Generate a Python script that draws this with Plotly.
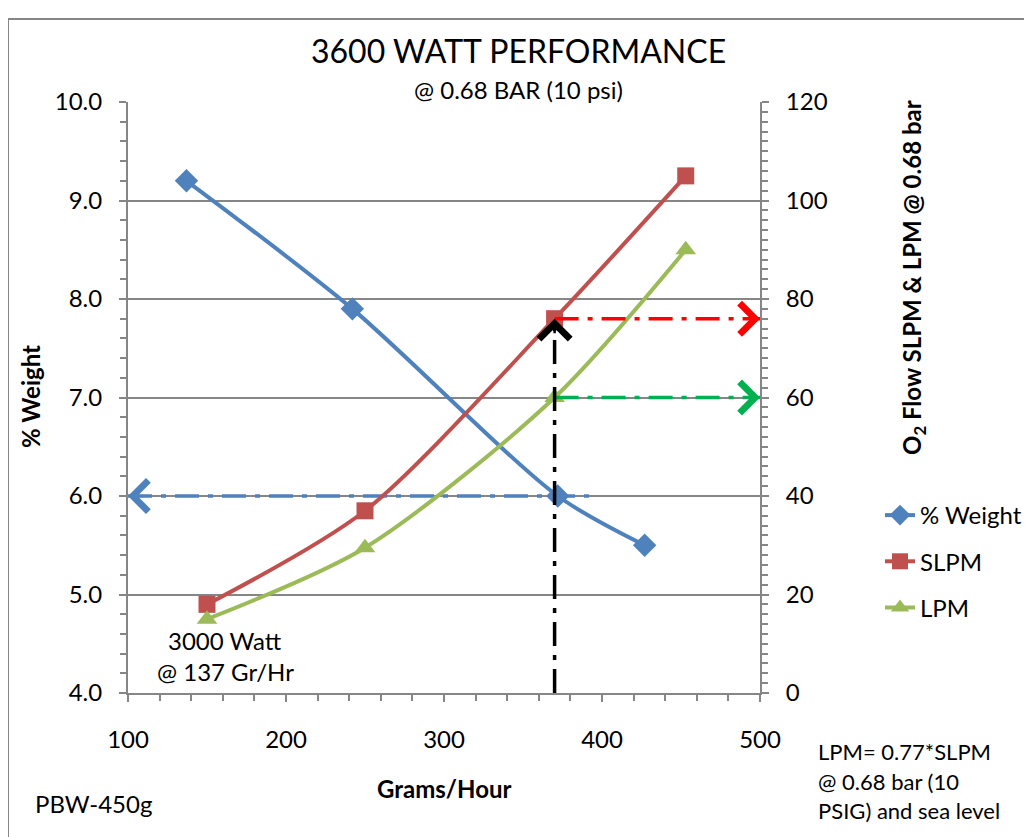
import plotly.graph_objects as go

# ---- data ----
GPH_WEIGHT = [137, 242, 372, 427]
PCT_WEIGHT = [9.2, 7.9, 6.0, 5.5]

GPH_FLOW = [150, 250, 370, 453]
SLPM = [18, 37, 76, 105]
LPM = [15, 29.5, 60, 90]

X_TICKS = [100, 200, 300, 400, 500]
Y_TICKS = [4.0, 5.0, 6.0, 7.0, 8.0, 9.0, 10.0]
Y2_TICKS = [0, 20, 40, 60, 80, 100, 120]

BLUE = "#4F81BD"
RED = "#C0504D"
GREEN = "#9BBB59"
GRAY = "#868686"
FONT = "Lato"

fig = go.Figure()

# main series
fig.add_trace(go.Scatter(x=GPH_WEIGHT, y=PCT_WEIGHT, name="% Weight", mode="lines+markers",
                         line=dict(color=BLUE, width=4, shape="spline", smoothing=0.8),
                         marker=dict(symbol="diamond", size=18, color=BLUE),
                         legendgroup="a", yaxis="y"))
fig.add_trace(go.Scatter(x=GPH_FLOW, y=SLPM, name="SLPM", mode="lines+markers",
                         line=dict(color=RED, width=4, shape="spline", smoothing=0.8),
                         marker=dict(symbol="square", size=17, color=RED),
                         legendgroup="b", yaxis="y2"))
fig.add_trace(go.Scatter(x=GPH_FLOW, y=LPM, name="LPM", mode="lines+markers",
                         line=dict(color=GREEN, width=4, shape="spline", smoothing=0.8),
                         marker=dict(symbol="triangle-up", size=18, color=GREEN),
                         legendgroup="c", yaxis="y2"))

# guide lines (dash-dot)
DASH = "24px,9px,5px,9px"
x_op = GPH_FLOW[2]
fig.add_trace(go.Scatter(x=[X_TICKS[0], 397], y=[PCT_WEIGHT[2], PCT_WEIGHT[2]], mode="lines",
                         line=dict(color=BLUE, width=3.5, dash=DASH), showlegend=False,
                         hoverinfo="skip", yaxis="y"))
fig.add_trace(go.Scatter(x=[x_op, X_TICKS[-1]], y=[SLPM[2], SLPM[2]], mode="lines",
                         line=dict(color="#FF0000", width=3.5, dash=DASH), showlegend=False,
                         hoverinfo="skip", yaxis="y2"))
fig.add_trace(go.Scatter(x=[x_op, X_TICKS[-1]], y=[LPM[2], LPM[2]], mode="lines",
                         line=dict(color="#00B050", width=3.5, dash=DASH), showlegend=False,
                         hoverinfo="skip", yaxis="y2"))
fig.add_trace(go.Scatter(x=[x_op, x_op], y=[Y2_TICKS[0], SLPM[2]], mode="lines",
                         line=dict(color="black", width=3.5, dash=DASH), showlegend=False,
                         hoverinfo="skip", yaxis="y2"))

ann = []
# arrowheads
def arrow(x, y, ax, ay, color, yref):
    ann.append(dict(x=x, y=y, xref="x", yref=yref, ax=ax, ay=ay, axref="pixel", ayref="pixel",
                    text="", showarrow=True, arrowhead=4, arrowsize=2.4, arrowwidth=2.5,
                    arrowcolor=color, standoff=0))

arrow(X_TICKS[0], PCT_WEIGHT[2], 16, 0, BLUE, "y")
arrow(X_TICKS[-1], SLPM[2], -16, 0, "#FF0000", "y2")
arrow(X_TICKS[-1], LPM[2], -16, 0, "#00B050", "y2")
arrow(x_op, SLPM[2], 0, 16, "black", "y2")

PW = 632.0
PH = 591.0
def px(xp):
    return (xp - 128) / PW
def py(yp):
    return (693 - yp) / PH

def txt(text, x, y, size=24, xanchor="center", angle=0):
    ann.append(dict(text=text, x=px(x), y=py(y), xref="paper", yref="paper",
                    xanchor=xanchor, yanchor="middle", textangle=angle, showarrow=False,
                    font=dict(family=FONT, size=size, color="black")))

txt("3600 WATT PERFORMANCE", 518, 50, size=32)
txt("@ 0.68 BAR (10 psi)", 518, 90, size=24)
txt("<b>% Weight</b>", 30, 397, size=24, angle=-90)
txt("<b>O<sub>2</sub> Flow SLPM & LPM @ 0.68 bar</b>", 913, 278, size=24, angle=-90)
txt("<b>Grams/Hour</b>", 444, 788, size=24)
txt("3000 Watt", 225, 640, size=24)
txt("@ 137 Gr/Hr", 225, 671, size=24)
txt("PBW-450g", 33, 803, size=24, xanchor="left")
txt("LPM= 0.77*SLPM", 816, 751, size=22, xanchor="left")
txt("@ 0.68 bar (10", 816, 781, size=22, xanchor="left")
txt("PSIG) and sea level", 816, 810, size=22, xanchor="left")

fig.update_layout(
    width=1024, height=829,
    margin=dict(l=120, r=272, t=94, b=144, autoexpand=False),
    paper_bgcolor="white", plot_bgcolor="white",
    font=dict(family=FONT, size=24, color="black"),
    showlegend=True,
    legend=dict(x=px(880), y=py(493), xanchor="left", yanchor="top",
                font=dict(family=FONT, size=24, color="black"),
                tracegroupgap=12, bgcolor="rgba(0,0,0,0)"),
    annotations=ann,
    xaxis=dict(range=[X_TICKS[0], X_TICKS[-1]], tickvals=X_TICKS, showgrid=False, zeroline=False,
               showline=True, linecolor=GRAY, linewidth=2, ticks="outside", ticklen=7,
               tickcolor=GRAY, tickwidth=2, ticklabelstandoff=17,
               tickfont=dict(family=FONT, size=24),
               minor=dict(dtick=20, ticks="outside", ticklen=6, tickcolor=GRAY, tickwidth=1.5)),
    yaxis=dict(range=[Y_TICKS[0], Y_TICKS[-1]], tickvals=Y_TICKS, tickformat=".1f",
               tickfont=dict(family=FONT, size=24),
               showgrid=True, gridcolor=GRAY, gridwidth=1.5, zeroline=False,
               showline=True, linecolor=GRAY, linewidth=2, ticks="outside", ticklen=7,
               tickcolor=GRAY, tickwidth=2, ticklabelstandoff=12,
               minor=dict(dtick=0.2, ticks="outside", ticklen=6, tickcolor=GRAY, tickwidth=1.5,
                          showgrid=False)),
    yaxis2=dict(range=[Y2_TICKS[0], Y2_TICKS[-1]], tickvals=Y2_TICKS, overlaying="y", side="right",
                tickfont=dict(family=FONT, size=24),
                showgrid=False, zeroline=False, showline=True, linecolor=GRAY, linewidth=2,
                ticks="outside", ticklen=7, tickcolor=GRAY, tickwidth=2, ticklabelstandoff=12,
                minor=dict(dtick=2, ticks="outside", ticklen=6, tickcolor=GRAY, tickwidth=1.5)),
    shapes=[dict(type="rect", xref="paper", yref="paper", x0=px(8), x1=px(1026), y0=py(850),
                 y1=py(19), line=dict(color=GRAY, width=2), fillcolor="rgba(0,0,0,0)", layer="below")],
)

fig.write_html("out.html")
